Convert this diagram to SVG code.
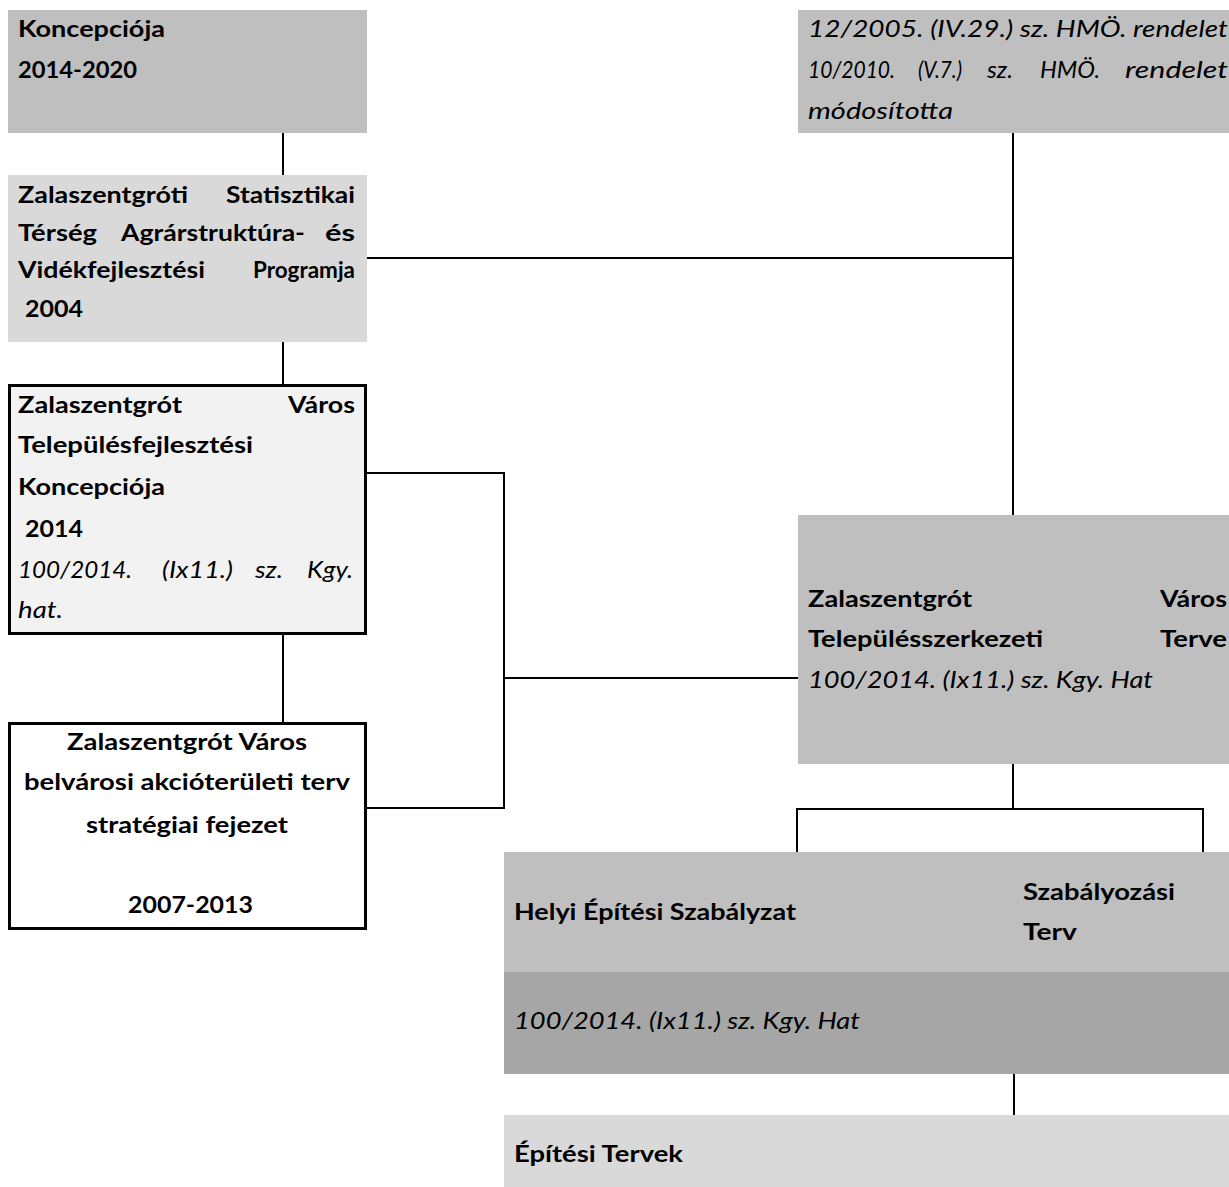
<svg xmlns="http://www.w3.org/2000/svg" width="1229" height="1187" viewBox="0 0 1229 1187">
<style>
text { font-family: Lato, 'Open Sans', 'Noto Sans', sans-serif; font-size: 23px; fill: #000; }
.b { font-weight: bold; }
.i { font-style: italic; }
.ln { stroke: #000; stroke-width: 2; fill: none; }
.bx { stroke: #000; stroke-width: 3; }
</style>
<rect width="1229" height="1187" fill="#ffffff"/>
<g id="connectors">
  <path class="ln" d="M283 133 V175"/>
  <path class="ln" d="M283 342 V384"/>
  <path class="ln" d="M283 635 V722"/>
  <path class="ln" d="M367 258 H1013"/>
  <path class="ln" d="M1013 133 V515"/>
  <path class="ln" d="M367 473 H504 V808 H367"/>
  <path class="ln" d="M504 678 H798"/>
  <path class="ln" d="M1013 764 V809"/>
  <path class="ln" d="M797 852 V809 H1203 V852"/>
  <path class="ln" d="M1014 1074 V1115"/>
</g>
<g id="koncepcioja-2014-2020">
  <rect x="8" y="10" width="359" height="123" fill="#bfbfbf"/>
  <text class="b" x="18" y="37" textLength="147" lengthAdjust="spacingAndGlyphs">Koncepciója</text>
  <text class="b" x="18" y="78" textLength="119" lengthAdjust="spacingAndGlyphs">2014-2020</text>
</g>
<g id="agrarstruktura-program">
  <rect x="8" y="175" width="359" height="167" fill="#d9d9d9"/>
  <text class="b" y="203"><tspan x="18" textLength="170" lengthAdjust="spacingAndGlyphs">Zalaszentgróti</tspan><tspan x="226" textLength="129" lengthAdjust="spacingAndGlyphs">Statisztikai</tspan></text>
  <text class="b" y="241"><tspan x="18" textLength="79" lengthAdjust="spacingAndGlyphs">Térség</tspan><tspan x="121" textLength="184" lengthAdjust="spacingAndGlyphs">Agrárstruktúra-</tspan><tspan x="325" textLength="30" lengthAdjust="spacingAndGlyphs">és</tspan></text>
  <text class="b" y="278"><tspan x="18" textLength="187" lengthAdjust="spacingAndGlyphs">Vidékfejlesztési</tspan><tspan x="253" textLength="102" lengthAdjust="spacingAndGlyphs">Programja</tspan></text>
  <text class="b" x="25" y="317" textLength="58" lengthAdjust="spacingAndGlyphs">2004</text>
</g>
<g id="telepulesfejlesztesi-koncepcio">
  <rect class="bx" x="9.5" y="385.5" width="356" height="248" fill="#f2f2f2"/>
  <text class="b" y="413"><tspan x="18" textLength="164" lengthAdjust="spacingAndGlyphs">Zalaszentgrót</tspan><tspan x="288" textLength="67" lengthAdjust="spacingAndGlyphs">Város</tspan></text>
  <text class="b" x="18" y="453" textLength="235" lengthAdjust="spacingAndGlyphs">Településfejlesztési</text>
  <text class="b" x="18" y="495" textLength="147" lengthAdjust="spacingAndGlyphs">Koncepciója</text>
  <text class="b" x="25" y="537" textLength="58" lengthAdjust="spacingAndGlyphs">2014</text>
  <text class="i" y="578"><tspan x="18" textLength="114" lengthAdjust="spacingAndGlyphs">100/2014.</tspan><tspan x="162" textLength="71" lengthAdjust="spacingAndGlyphs">(Ix11.)</tspan><tspan x="255" textLength="28" lengthAdjust="spacingAndGlyphs">sz.</tspan><tspan x="307" textLength="46" lengthAdjust="spacingAndGlyphs">Kgy.</tspan></text>
  <text class="i" x="18" y="618" textLength="45" lengthAdjust="spacingAndGlyphs">hat.</text>
</g>
<g id="belvarosi-akcioteruleti-terv">
  <rect class="bx" x="9.5" y="723.5" width="356" height="205" fill="#ffffff"/>
  <text class="b" x="67" y="750" textLength="240" lengthAdjust="spacingAndGlyphs">Zalaszentgrót Város</text>
  <text class="b" x="24" y="790" textLength="326" lengthAdjust="spacingAndGlyphs">belvárosi akcióterületi terv</text>
  <text class="b" x="86" y="833" textLength="202" lengthAdjust="spacingAndGlyphs">stratégiai fejezet</text>
  <text class="b" x="128" y="913" textLength="125" lengthAdjust="spacingAndGlyphs">2007-2013</text>
</g>
<g id="hmo-rendelet">
  <rect x="798" y="10" width="431" height="123" fill="#bfbfbf"/>
  <text class="i" x="808" y="37" textLength="420" lengthAdjust="spacingAndGlyphs">12/2005. (IV.29.) sz. HMÖ. rendelet</text>
  <text class="i" y="78"><tspan x="808" textLength="87" lengthAdjust="spacingAndGlyphs">10/2010.</tspan><tspan x="918" textLength="44" lengthAdjust="spacingAndGlyphs">(V.7.)</tspan><tspan x="987" textLength="26" lengthAdjust="spacingAndGlyphs">sz.</tspan><tspan x="1040" textLength="60" lengthAdjust="spacingAndGlyphs">HMÖ.</tspan><tspan x="1125" textLength="103" lengthAdjust="spacingAndGlyphs">rendelet</tspan></text>
  <text class="i" x="808" y="119" textLength="145" lengthAdjust="spacingAndGlyphs">módosította</text>
</g>
<g id="telepulesszerkezeti-terv">
  <rect x="798" y="515" width="431" height="249" fill="#bfbfbf"/>
  <text class="b" y="607"><tspan x="808" textLength="164" lengthAdjust="spacingAndGlyphs">Zalaszentgrót</tspan><tspan x="1160" textLength="67" lengthAdjust="spacingAndGlyphs">Város</tspan></text>
  <text class="b" y="647"><tspan x="808" textLength="235" lengthAdjust="spacingAndGlyphs">Településszerkezeti</tspan><tspan x="1160" textLength="67" lengthAdjust="spacingAndGlyphs">Terve</tspan></text>
  <text class="i" x="808" y="688" textLength="345" lengthAdjust="spacingAndGlyphs">100/2014. (Ix11.) sz. Kgy. Hat</text>
</g>
<g id="helyi-epitesi-szabalyzat">
  <rect x="504" y="852" width="725" height="120" fill="#bfbfbf"/>
  <rect x="504" y="972" width="725" height="102" fill="#a6a6a6"/>
  <text class="b" x="514" y="920" textLength="282" lengthAdjust="spacingAndGlyphs">Helyi Építési Szabályzat</text>
  <text class="b" x="1023" y="900" textLength="152" lengthAdjust="spacingAndGlyphs">Szabályozási</text>
  <text class="b" x="1023" y="940" textLength="54" lengthAdjust="spacingAndGlyphs">Terv</text>
  <text class="i" x="514" y="1029" textLength="346" lengthAdjust="spacingAndGlyphs">100/2014. (Ix11.) sz. Kgy. Hat</text>
</g>
<g id="epitesi-tervek">
  <rect x="504" y="1115" width="725" height="72" fill="#d9d9d9"/>
  <text class="b" x="514" y="1162" textLength="169" lengthAdjust="spacingAndGlyphs">Építési Tervek</text>
</g>
</svg>
